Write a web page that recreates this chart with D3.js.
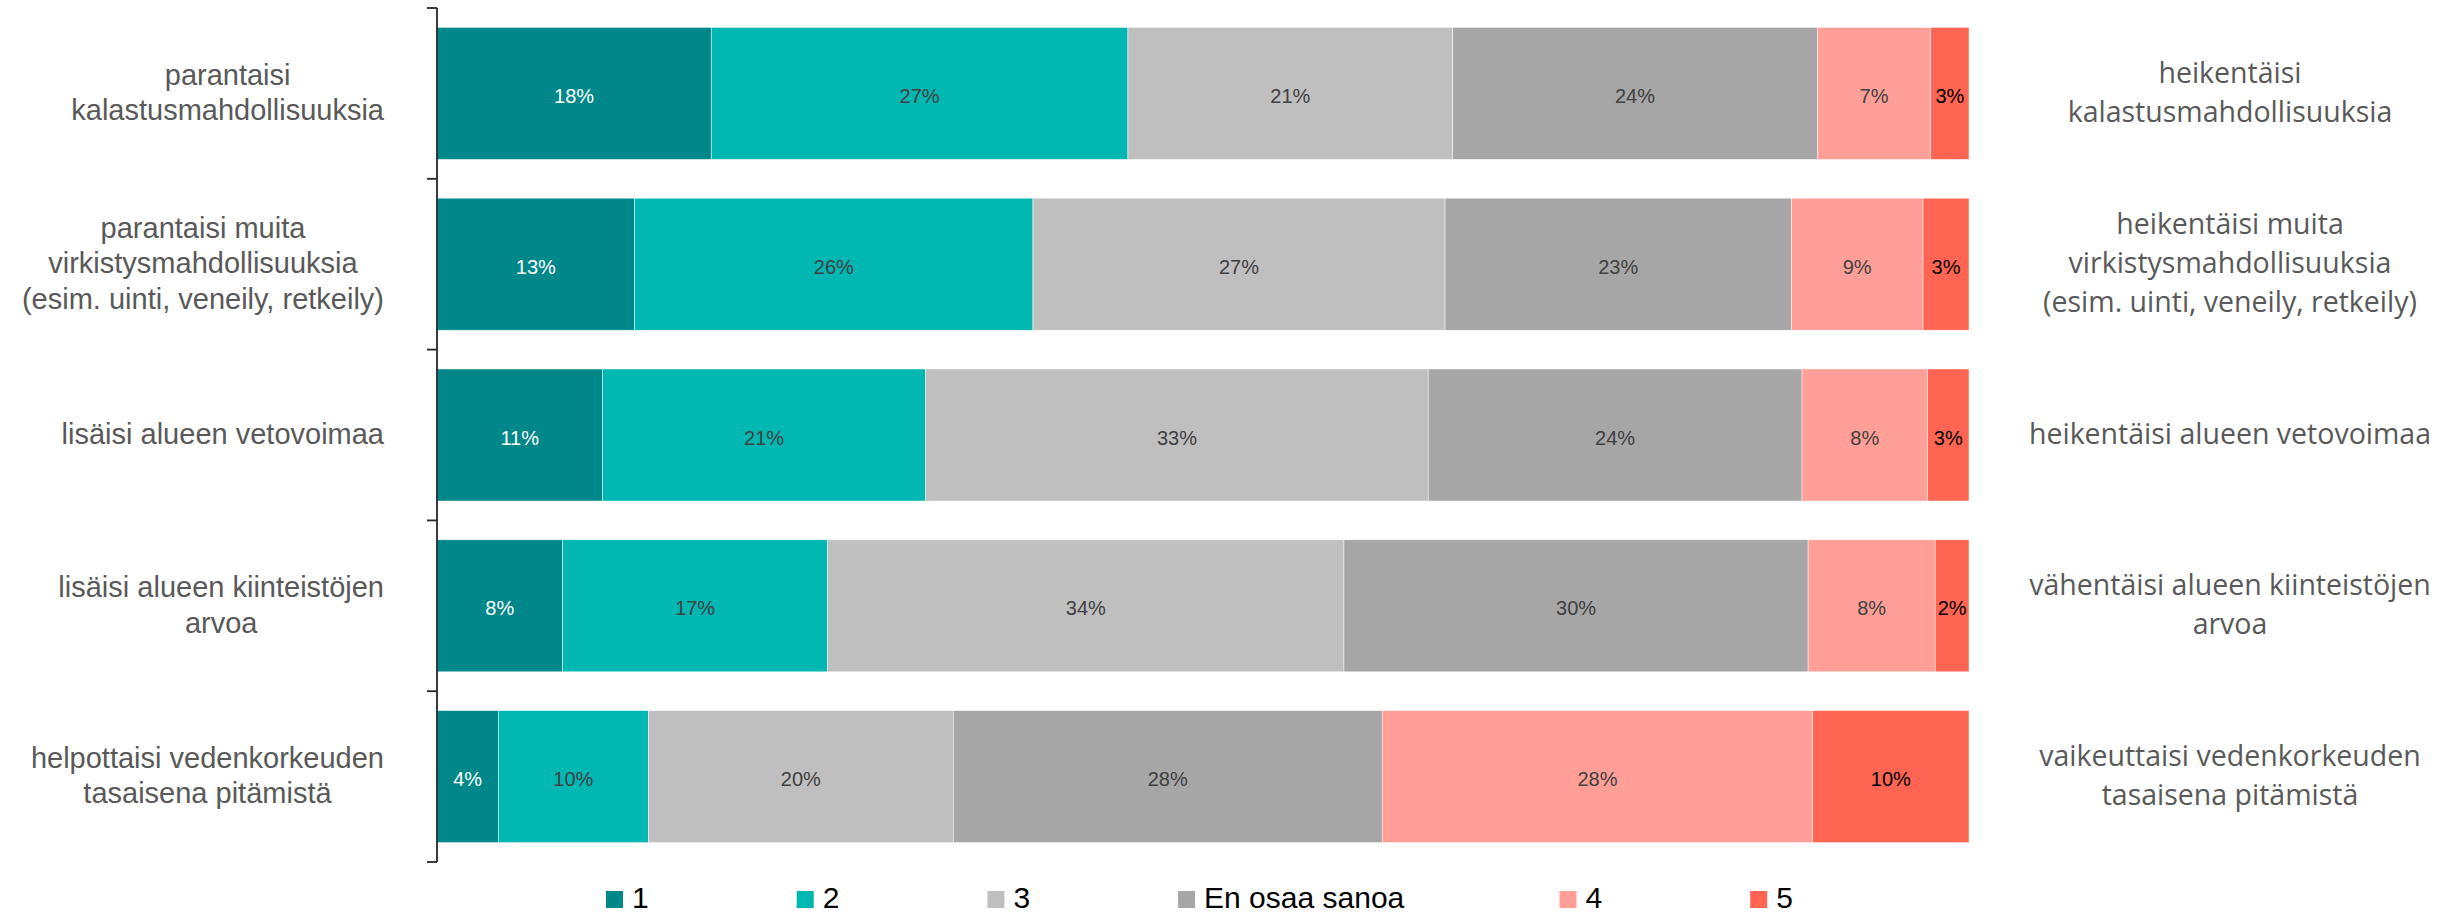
<!DOCTYPE html>
<html>
<head>
<meta charset="utf-8">
<script src="https://cdn.jsdelivr.net/npm/d3@7"></script>
<style>
  html, body { margin: 0; padding: 0; background: #fff; }
  svg { display: block; }
</style>
</head>
<body>
<svg id="chart" width="2450" height="917"></svg>
<script>
// ---------- DATA ----------
const leftLabels = [
  ["parantaisi", "kalastusmahdollisuuksia"],
  ["parantaisi muita", "virkistysmahdollisuuksia", "(esim. uinti, veneily, retkeily)"],
  ["lisäisi alueen vetovoimaa"],
  ["lisäisi alueen kiinteistöjen", "arvoa"],
  ["helpottaisi vedenkorkeuden", "tasaisena pitämistä"]
];
const rightLabels = [
  ["heikentäisi", "kalastusmahdollisuuksia"],
  ["heikentäisi muita", "virkistysmahdollisuuksia", "(esim. uinti, veneily, retkeily)"],
  ["heikentäisi alueen vetovoimaa"],
  ["vähentäisi alueen kiinteistöjen", "arvoa"],
  ["vaikeuttaisi vedenkorkeuden", "tasaisena pitämistä"]
];
const seriesNames = ["1", "2", "3", "En osaa sanoa", "4", "5"];
const s1   = [17.9, 12.9, 10.8,  8.2,  4.0];
const s2   = [27.2, 26.0, 21.1, 17.3,  9.8];
const s3   = [21.2, 26.9, 32.8, 33.7, 19.9];
const sEos = [23.8, 22.6, 24.4, 30.3, 28.0];
const s4   = [ 7.4,  8.6,  8.2,  8.3, 28.1];
const s5   = [ 2.5,  3.0,  2.7,  2.2, 10.2];
const seriesValues = [s1, s2, s3, sEos, s4, s5];
const colors = ["#00878A", "#00B7B2", "#BFBFBF", "#A6A6A6", "#FF9F97", "#FF6552"];
const labelColors = ["#FFFFFF", "#404040", "#404040", "#404040", "#404040", "#000000"];

// ---------- TABLE ----------
const rows = leftLabels.map((l, i) => {
  const r = { idx: i };
  seriesNames.forEach((s, j) => { r[s] = seriesValues[j][i]; });
  return r;
});
const stacked = d3.stack().keys(seriesNames)(rows);

// ---------- SCALES ----------
const svg = d3.select("#chart");
const x = d3.scaleLinear().domain([0, 100]).range([437, 1969]);
const y = d3.scaleBand().domain(d3.range(rows.length)).range([8, 862])
  .paddingInner(0.227).paddingOuter(0.1135);
const step = y.step();

// ---------- BARS ----------
const g = svg.append("g");
stacked.forEach((layer, j) => {
  const lg = g.append("g");
  lg.selectAll("rect").data(layer).join("rect")
    .attr("x", d => x(d[0]))
    .attr("y", (d, i) => y(i))
    .attr("width", d => x(d[1]) - x(d[0]))
    .attr("height", y.bandwidth())
    .attr("fill", colors[j])
    .attr("stroke", "#ffffff")
    .attr("stroke-width", 0.6)
    .attr("stroke-opacity", 0.8);
  lg.selectAll("text").data(layer).join("text")
    .attr("x", d => (x(d[0]) + x(d[1])) / 2)
    .attr("y", (d, i) => y(i) + y.bandwidth() / 2 + 9.5)
    .attr("text-anchor", "middle")
    .attr("font-family", "'Liberation Sans', Arial, sans-serif")
    .attr("font-size", 20)
    .attr("fill", labelColors[j])
    .text(d => Math.round(d[1] - d[0]) + "%");
});

// ---------- AXIS ----------
const yTickPos = d3.range(rows.length + 1).map(i => 8 + i * step);
const axisG = svg.append("g");
axisG.append("line")
  .attr("x1", 437).attr("x2", 437)
  .attr("y1", 8).attr("y2", 862)
  .attr("stroke", "#262626").attr("stroke-width", 1.8);
axisG.selectAll("line.tick").data(yTickPos).join("line")
  .attr("class", "tick")
  .attr("x1", 427).attr("x2", 437)
  .attr("y1", d => d).attr("y2", d => d)
  .attr("stroke", "#262626").attr("stroke-width", 1.8);

// ---------- LEFT LABELS ----------
const leftG = svg.append("g");
const leftRight = 384;
leftLabels.forEach((lines, i) => {
  const cy = y(i) + y.bandwidth() / 2;
  const lh = 35.5;
  const t = leftG.append("text")
    .attr("font-family", "'Liberation Sans', Arial, sans-serif")
    .attr("font-size", 29)
    .attr("fill", "#595959")
    .attr("text-anchor", "middle");
  const spans = lines.map((ln, k) => t.append("tspan")
    .attr("y", cy + 9 + (k - (lines.length - 1) / 2) * lh)
    .text(ln));
  const maxW = d3.max(spans, s => s.node().getComputedTextLength());
  spans.forEach(s => s.attr("x", leftRight - maxW / 2));
});

// ---------- RIGHT LABELS ----------
const rightG = svg.append("g");
rightLabels.forEach((lines, i) => {
  const cy = y(i) + y.bandwidth() / 2;
  const lh = 39;
  const t = rightG.append("text")
    .attr("font-family", "'Open Sans', 'Noto Sans', sans-serif")
    .attr("font-size", 28.5)
    .attr("fill", "#595959")
    .attr("text-anchor", "middle");
  lines.forEach((ln, k) => t.append("tspan")
    .attr("x", 2230)
    .attr("y", cy + 9 + (k - (lines.length - 1) / 2) * lh)
    .text(ln));
});

// ---------- LEGEND ----------
const legG = svg.append("g");
const slot = 190.7;
let slotPos = 0;
seriesNames.forEach((name, j) => {
  const item = legG.append("g");
  const lx = 606 + slotPos * slot;
  item.append("rect")
    .attr("x", lx).attr("y", 891)
    .attr("width", 17).attr("height", 17)
    .attr("fill", colors[j]);
  const txt = item.append("text")
    .attr("x", lx + 26).attr("y", 908)
    .attr("font-family", "'Liberation Sans', Arial, sans-serif")
    .attr("font-size", 30)
    .attr("fill", "#000")
    .text(name);
  const w = 26 + txt.node().getComputedTextLength() + 20;
  slotPos += Math.max(1, Math.ceil(w / slot));
});
</script>
</body>
</html>
